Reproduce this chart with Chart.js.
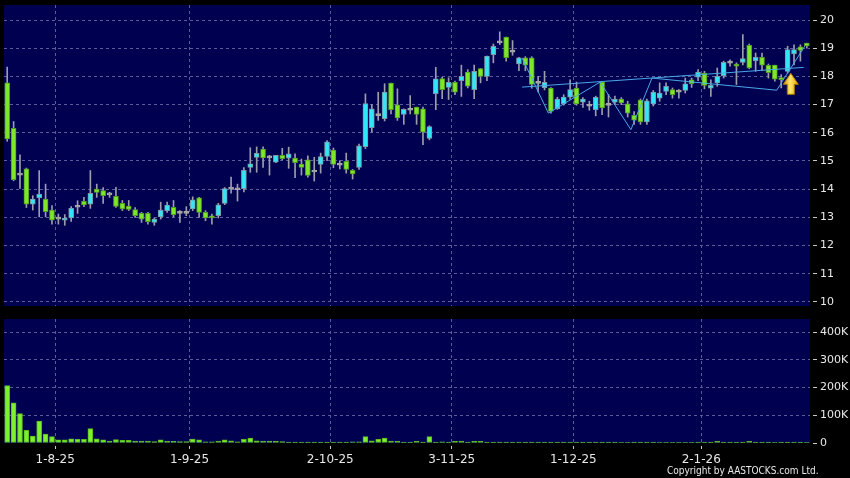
<!DOCTYPE html>
<html><head><meta charset="utf-8">
<script src="https://cdn.jsdelivr.net/npm/chart.js@4.4.0/dist/chart.umd.min.js"></script>
<style>
html,body{margin:0;padding:0;background:#000;width:850px;height:478px;overflow:hidden}
#wrap{position:relative;width:850px;height:478px;background:#000}
#pc{position:absolute;left:0;top:0}
#vc{position:absolute;left:0;top:312px}
#copy{position:absolute;left:667px;top:465px;color:#e8e8e8;font:10px "DejaVu Sans Condensed","DejaVu Sans",sans-serif;white-space:nowrap}
</style></head><body>
<div id="wrap">
<canvas id="pc" width="850" height="312"></canvas>
<canvas id="vc" width="850" height="166"></canvas>
<div id="copy">Copyright by AASTOCKS.com Ltd.</div>
</div>
<script>
// ---- data (one entry per trading day) ----
const openP = [17.77,16.16,14.5,14.72,13.47,13.69,13.65,13.26,12.94,12.9,12.98,13.36,13.57,13.47,14.0,13.95,13.8,13.75,13.5,13.4,
13.28,13.14,13.14,12.82,13.02,13.24,13.36,13.14,13.14,13.3,13.69,13.18,13.06,13.06,13.5,14.0,13.98,14.02,14.77,15.13,
15.42,15.11,14.96,15.2,15.1,15.1,14.89,15.04,14.61,14.88,15.16,15.39,14.85,14.99,14.67,14.77,15.51,16.18,16.61,16.5,
17.76,16.99,16.65,16.8,16.91,16.85,15.8,17.39,17.92,17.61,17.79,17.85,18.15,17.53,18.28,18.0,18.77,19.19,19.39,18.86,
18.44,18.66,18.66,17.75,17.6,17.59,16.86,17.03,17.26,17.59,17.09,16.94,16.82,17.8,16.97,17.09,17.2,17.03,16.62,17.16,
16.39,17.02,17.23,17.47,17.53,17.44,17.5,17.88,17.97,18.12,17.58,17.77,18.03,18.47,18.44,18.5,19.1,18.56,18.68,18.39,
18.4,17.96,18.18,18.8,19.05,19.18];
const highP = [18.33,16.4,15.22,14.75,13.77,14.66,14.18,13.42,13.12,13.1,13.38,13.59,13.71,14.66,14.18,14.06,13.89,14.07,13.6,13.6,
13.35,13.18,13.18,12.98,13.54,13.54,13.6,13.24,13.38,13.73,13.71,13.24,13.12,13.5,14.06,14.43,14.18,14.77,15.47,15.5,
15.5,15.2,15.2,15.45,15.49,15.25,15.07,15.18,15.13,15.28,15.72,15.46,15.01,15.28,14.7,15.6,17.38,17.0,17.44,17.74,
17.76,17.56,16.85,17.32,16.91,16.91,16.25,18.32,17.97,17.95,17.83,18.4,18.24,18.4,18.28,18.72,19.15,19.58,19.39,19.27,
18.68,18.7,18.7,18.0,18.18,17.6,17.26,17.35,17.88,17.8,17.25,17.12,17.3,17.82,17.36,17.3,17.25,17.12,16.75,17.2,
17.2,17.5,17.77,17.77,17.59,17.53,17.94,17.94,18.24,18.18,17.88,18.3,18.54,18.59,18.48,19.48,19.15,18.83,18.83,18.44,
18.4,18.06,19.07,19.12,19.12,19.18];
const lowP = [15.7,14.3,14.03,13.35,13.26,13.02,13.02,12.76,12.76,12.72,12.86,13.14,13.38,13.32,13.71,13.5,13.71,13.35,13.24,13.24,
13.0,12.82,12.76,12.72,12.94,13.18,13.02,12.82,13.06,13.24,13.0,12.88,12.76,12.98,13.45,13.86,13.58,13.9,14.6,14.6,
14.77,14.5,14.94,15.04,14.74,14.41,14.5,14.43,14.29,14.57,15.01,14.76,14.72,14.57,14.36,14.7,15.44,16.03,16.44,16.42,
16.67,16.44,16.3,16.67,16.3,15.58,15.75,16.82,17.21,17.18,17.35,17.29,17.59,17.21,17.77,17.85,18.48,19.13,18.54,18.75,
18.2,18.2,17.58,17.45,17.52,16.7,16.83,16.98,17.18,16.98,16.9,16.8,16.6,16.64,16.56,17.0,17.0,16.56,16.3,16.3,
16.3,16.95,17.12,17.35,17.23,17.23,17.41,17.61,17.85,17.56,17.29,17.65,17.94,18.36,17.71,18.41,18.27,18.18,18.2,17.94,
17.83,17.59,18.12,18.41,18.54,19.0];
const closeP = [15.78,14.34,14.5,13.47,13.65,13.83,13.2,12.9,12.94,12.98,13.32,13.36,13.44,13.85,13.89,13.77,13.8,13.39,13.3,13.28,
13.06,12.94,12.85,12.94,13.26,13.44,13.1,13.14,13.14,13.62,13.18,12.98,12.98,13.45,14.02,14.0,13.98,14.67,14.9,15.27,
15.11,15.11,15.2,15.08,15.25,14.94,14.77,14.49,14.61,15.16,15.68,14.88,14.85,14.7,14.54,15.54,17.04,16.85,16.61,17.44,
16.82,16.53,16.83,16.8,16.65,16.02,16.22,17.91,17.53,17.79,17.44,18.0,17.65,18.18,18.0,18.72,19.07,19.19,18.66,18.86,
18.66,18.4,17.72,17.75,17.79,16.76,17.2,17.27,17.53,17.02,17.2,16.94,17.26,16.88,16.97,17.2,17.06,16.7,16.45,16.39,
17.13,17.44,17.41,17.65,17.35,17.44,17.74,17.74,18.15,17.68,17.68,18.0,18.5,18.47,18.36,18.63,18.3,18.68,18.4,18.13,
17.9,17.88,18.95,18.95,18.92,19.08];
const volumeK = [207,145,106,46,25,79,32,23,11,11,15,13,13,52,15,11,7,12,10,10,
7,7,7,5,11,6,6,5,5,14,11,4,4,7,11,8,4,13,18,8,
7,7,6,5,3,3,3,3,3,3,3,3,3,3,4,4,23,8,13,18,
7,6,3,3,6,3,23,3,4,3,6,7,3,6,6,3,3,3,3,3,
3,3,3,3,3,3,3,3,3,3,3,3,3,3,3,3,2,2,3,3,
3,3,2,2,2,2,2,2,3,3,3,6,3,3,3,3,6,3,3,3,
2,3,3,3,3,2];
// first trading day of each month shown on the axis (candle index) and its label
const monthStartIdx = [8,29,51,70,89,109];
const monthLabels = ['1-8-25','1-9-25','2-10-25','3-11-25','1-12-25','2-1-26'];
const priceTicks = [10,11,12,13,14,15,16,17,18,19,20];
const volTicks = [0,100,200,300,400];
// chart-pattern annotation lines (candle index, price)
const neckLine = [{x:80.5,y:17.62},{x:124.5,y:18.32}];
const patternLine = [{x:80.5,y:18.65},{x:84.6,y:16.70},{x:92.7,y:17.80},{x:97.5,y:16.11},{x:100.8,y:17.94},{x:120.3,y:17.51},{x:124.7,y:19.08}];
const signalArrow = {x:122.5, y:18.11};

// ---- styles ----
const N = openP.length;
const NAVY = '#000050';
const GRID = '#5c5c98';
const TXT = '#e8e8e8';
const UP = '#33e6f5', UPB = '#7a98a8';
const DN = '#7fe62a', DNB = '#4f9e22';
const FLAT = '#a8a8a8';
const WICK = '#9c9cac';
const FONTX = {family:'"DejaVu Sans", sans-serif', size:12};
const FONTY = {family:'"DejaVu Sans", sans-serif', size:11};

const bodies = [], wicks = [], bodyBg = [], bodyBd = [], vols = [];
for (let i=0;i<N;i++){
  const o=openP[i], c=closeP[i];
  bodies.push({x:i, y:[o,c]});
  wicks.push({x:i, y:[lowP[i],highP[i]]});
  if (c>o){bodyBg.push(UP);bodyBd.push(UPB);}
  else if (c<o){bodyBg.push(DN);bodyBd.push(DNB);}
  else {bodyBg.push(FLAT);bodyBd.push(FLAT);}
  vols.push({x:i, y:volumeK[i]*1000});
}
const gridX = monthStartIdx.map(v=>v-0.5);

const bgPlugin = {id:'bg', beforeDraw(ch){const a=ch.chartArea,ctx=ch.ctx;ctx.save();ctx.fillStyle=NAVY;ctx.fillRect(a.left,a.top,a.right-a.left,a.bottom-a.top);ctx.restore();}};
const arrowPlugin = {id:'arrow', afterDatasetsDraw(ch){
  const ctx=ch.ctx, x=ch.scales.x.getPixelForValue(signalArrow.x), y=ch.scales.y.getPixelForValue(signalArrow.y);
  ctx.save();
  ctx.beginPath();
  ctx.moveTo(x,y); ctx.lineTo(x+7.5,y+11); ctx.lineTo(x+3.5,y+11); ctx.lineTo(x+3.5,y+21);
  ctx.lineTo(x-3.5,y+21); ctx.lineTo(x-3.5,y+11); ctx.lineTo(x-7.5,y+11); ctx.closePath();
  const g=ctx.createLinearGradient(x-7,0,x+7,0);
  g.addColorStop(0,'#d89a00'); g.addColorStop(0.45,'#ffe66a'); g.addColorStop(1,'#e8a800');
  ctx.fillStyle=g; ctx.fill();
  ctx.strokeStyle='#b07800'; ctx.lineWidth=1; ctx.stroke();
  ctx.restore();
}};

function fitY(s){ s.width=40; s.paddingTop=0; s.paddingBottom=0; }

const xCommon = {
  type:'linear', min:-0.5, max:N-0.5, offset:false,
  afterBuildTicks(s){ s.ticks = gridX.map(v=>({value:v})); },
  grid:{color:GRID, drawTicks:false, offset:false},
  border:{display:false, dash:[3,3]},
};

new Chart(document.getElementById('pc'), {
  type:'bar',
  data:{datasets:[
    {type:'line', data:neckLine, borderColor:'#4aa8e6', borderWidth:1, pointRadius:0, tension:0},
    {type:'line', data:patternLine, borderColor:'#4aa8e6', borderWidth:1, pointRadius:0, tension:0},
    {data:bodies, backgroundColor:bodyBg, borderColor:bodyBd, borderWidth:1, borderSkipped:false, barThickness:5, minBarLength:2, grouped:false},
    {data:wicks, backgroundColor:WICK, borderWidth:0, barThickness:1, grouped:false}
  ]},
  options:{
    responsive:false, animation:false, devicePixelRatio:1,
    layout:{padding:{left:4, top:5, bottom:6, right:0}},
    plugins:{legend:{display:false}, tooltip:{enabled:false}},
    scales:{
      x:Object.assign({}, xCommon, {ticks:{display:false}, afterFit(s){s.height=0; s.paddingLeft=0; s.paddingRight=0;}}),
      y:{position:'right', min:9.858, max:20.532,
        afterBuildTicks(s){ s.ticks = priceTicks.map(v=>({value:v})); },
        afterFit:fitY,
        grid:{color:GRID, tickColor:'#c8c8c8', tickLength:7, tickBorderDash:[4,3], tickBorderDashOffset:4},
        border:{display:false, dash:[3,3]},
        ticks:{color:TXT, font:FONTY, padding:3}
      }
    }
  },
  plugins:[bgPlugin, arrowPlugin]
});

new Chart(document.getElementById('vc'), {
  type:'bar',
  data:{datasets:[
    {data:vols, backgroundColor:'#7ef02e', borderColor:'#58b820', borderWidth:1, borderSkipped:false, barThickness:5, grouped:false}
  ]},
  options:{
    responsive:false, animation:false, devicePixelRatio:1,
    layout:{padding:{left:4, top:7, bottom:0, right:0}},
    plugins:{legend:{display:false}, tooltip:{enabled:false}},
    scales:{
      x:Object.assign({}, xCommon, {
        grid:{color:GRID, tickColor:'#c8c8c8', tickLength:6, tickBorderDash:[3,3], tickBorderDashOffset:3, offset:false},
        ticks:{color:TXT, font:FONTX, padding:4, maxRotation:0, autoSkip:false,
          callback(v){ const k=gridX.indexOf(v); return k>=0?monthLabels[k]:''; }},
        afterFit(s){s.height=35; s.paddingLeft=0; s.paddingRight=0;}
      }),
      y:{position:'right', min:0, max:447700,
        afterBuildTicks(s){ s.ticks = volTicks.map(v=>({value:v*1000})); },
        afterFit:fitY,
        grid:{color:(c)=>c.tick && c.tick.value===0?'rgba(0,0,0,0)':GRID, tickColor:'#c8c8c8', tickLength:7, tickBorderDash:[4,3], tickBorderDashOffset:4},
        border:{display:false, dash:[3,3]},
        ticks:{color:TXT, font:FONTY, padding:3, callback(v){ return v===0?'0':(v/1000)+'K'; }}
      }
    }
  },
  plugins:[bgPlugin]
});
</script>
</body></html>
